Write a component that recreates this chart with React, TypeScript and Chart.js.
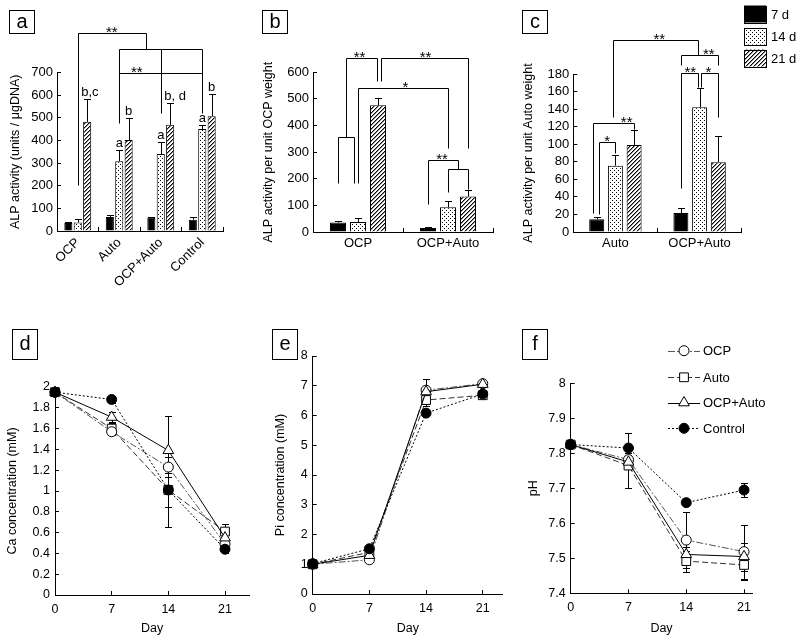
import React, { useEffect, useRef } from "react";
import { Chart, registerables } from "chart.js";

Chart.register(...registerables);

const FONT = "'Liberation Sans', Arial, Helvetica, sans-serif";
Chart.defaults.font.family = FONT;
Chart.defaults.color = "#000";

// ---------------- Bar panels (ALP activity) ----------------
const periods = ["7 d", "14 d", "21 d"];

const groupsA = ["OCP", "Auto", "OCP+Auto", "Control"];
const alpA7 = [35, 62, 58, 50];
const alpA14 = [38, 308, 340, 450];
const alpA21 = [482, 402, 469, 507];
const errA7 = [5, 9, 4, 10];
const errA14 = [17, 49, 55, 16];
const errA21 = [99, 97, 98, 100];
const ticksA = [0, 100, 200, 300, 400, 500, 600, 700];

const groupsB = ["OCP", "OCP+Auto"];
const alpB7 = [36, 15];
const alpB14 = [38, 93];
const alpB21 = [476, 133];
const errB7 = [4, 2];
const errB14 = [14, 23];
const errB21 = [29, 24];
const ticksB = [0, 100, 200, 300, 400, 500, 600];

const groupsC = ["Auto", "OCP+Auto"];
const alpC7 = [14.5, 21.6];
const alpC14 = [75.5, 142];
const alpC21 = [99, 79.5];
const errC7 = [3, 5.5];
const errC14 = [12, 22];
const errC21 = [17.5, 29.5];
const ticksC = [0, 20, 40, 60, 80, 100, 120, 140, 160, 180];

// significance brackets: polylines of [bar slot, value]; slot = bar index across the panel
const bracketsA = [
  [[1, 204], [1, 874], [5.75, 874], [5.75, 804]],
  [[4, 479], [4, 804], [10, 804], [10, 521]],
  [[7, 804], [7, 521]],
  [[4, 698], [10, 698]],
];
const starsA = [[3.2, 874, "**"], [5.36, 698, "**"]];
// letters: [group, period, text, slot shift]
const lettersA = [
  [0, 2, "b,c", 0.12], [1, 1, "a", 0], [1, 2, "b", 0], [2, 1, "a", 0],
  [2, 2, "b, d", 0.22], [3, 1, "a", 0], [3, 2, "b", 0],
];

const bracketsB = [
  [[0, 185], [0, 357], [0.82, 357], [0.82, 185]],
  [[0.41, 357], [0.41, 654], [1.95, 654], [1.95, 568]],
  [[2.06, 568], [2.06, 654], [5, 654], [5, 317]],
  [[1, 185], [1, 540], [4, 540], [4, 317]],
  [[3, 104], [3, 270], [4.5, 270], [4.5, 237]],
  [[4, 152], [4, 237], [5, 237], [5, 160]],
];
const starsB = [[1.08, 654, "**"], [2.95, 654, "**"], [2.55, 540, "*"], [3.7, 270, "**"]];

const bracketsC = [
  [[0.85, 131], [0.85, 218.7], [3.91, 218.7], [3.91, 201.5]],
  [[3, 190], [3, 201.5], [5, 201.5], [5, 190]],
  [[3, 49.7], [3, 180.7], [3.91, 180.7], [3.91, 165.5]],
  [[4.09, 165.5], [4.09, 180.7], [5, 180.7], [5, 131]],
  [[-0.22, 21.3], [-0.22, 123.8], [2, 123.8], [2, 117]],
  [[0.12, 21], [0.12, 102.8], [1, 102.8], [1, 89.6]],
];
const starsC = [[2.54, 218.7, "**"], [4.49, 201.5, "**"], [3.5, 180.7, "**"], [4.47, 180.7, "*"], [1.6, 123.8, "**"], [0.56, 102.8, "*"]];

// ---------------- Line panels ----------------
const days = [0, 7, 14, 21];
const dayTicks = [0, 7, 14, 21];
const groupNames = ["OCP", "Auto", "OCP+Auto", "Control"];

const caOCP = [1.95, 1.57, 1.23, 0.49];
const caAuto = [1.95, 1.6, 1.01, 0.61];
const caMix = [1.95, 1.71, 1.39, 0.55];
const caCtrl = [1.95, 1.88, 1.01, 0.44];
const caErrOCP = [0.02, 0.03, 0.1, 0.05];
const caErrAuto = [0.02, 0.05, 0.16, 0.07];
const caErrMix = [0.02, 0.05, 0.33, 0.05];
const caErrCtrl = [0.02, 0.03, 0.36, 0.04];
const caTicks = [0, 0.2, 0.4, 0.6, 0.8, 1, 1.2, 1.4, 1.6, 1.8, 2];

const piOCP = [1.0, 1.15, 6.85, 7.07];
const piAuto = [1.0, 1.4, 6.52, 6.68];
const piMix = [1.0, 1.3, 6.8, 7.05];
const piCtrl = [1.02, 1.52, 6.08, 6.72];
const piErrOCP = [0.05, 0.05, 0.1, 0.08];
const piErrAuto = [0.08, 0.1, 0.2, 0.1];
const piErrMix = [0.05, 0.1, 0.42, 0.08];
const piErrCtrl = [0.05, 0.05, 0.08, 0.1];
const piTicks = [0, 1, 2, 3, 4, 5, 6, 7, 8];

const phOCP = [7.825, 7.782, 7.552, 7.519];
const phAuto = [7.825, 7.765, 7.492, 7.481];
const phMix = [7.825, 7.775, 7.511, 7.505];
const phCtrl = [7.825, 7.815, 7.659, 7.695];
const phErrOCP = [0.005, 0.02, 0.08, 0.077];
const phErrAuto = [0.005, 0.063, 0.03, 0.042];
const phErrMix = [0.005, 0.02, 0.02, 0.04];
const phErrCtrl = [0.005, 0.042, 0.005, 0.02];
const phTicks = [7.4, 7.5, 7.6, 7.7, 7.8, 7.9, 8];

const lineStyles = [
  { dash: [7, 2, 2, 2], color: "#555", point: "circle", radius: 5, fill: "#fff", order: 2 },
  { dash: [6, 3], color: "#333", point: "rect", radius: 6.2, fill: "#fff", order: 3 },
  { dash: [], color: "#000", point: "triangle", radius: 6.2, fill: "#fff", order: 1 },
  { dash: [2, 2], color: "#000", point: "circle", radius: 5, fill: "#000", order: 0 },
];

// ---------------- helpers ----------------
function makeDots() {
  const c = document.createElement("canvas");
  c.width = 4; c.height = 4;
  const g = c.getContext("2d")!;
  g.fillStyle = "#fff"; g.fillRect(0, 0, 4, 4);
  g.fillStyle = "#000"; g.fillRect(0, 0, 1, 1); g.fillRect(2, 2, 1, 1);
  return g.createPattern(c, "repeat")!;
}
function makeHatch() {
  const c = document.createElement("canvas");
  c.width = 4; c.height = 4;
  const g = c.getContext("2d")!;
  g.fillStyle = "#fff"; g.fillRect(0, 0, 4, 4);
  g.fillStyle = "#000";
  for (let i = 0; i < 4; i++) g.fillRect(i, 3 - i, 1, 1);
  g.fillStyle = "rgba(0,0,0,0.45)";
  for (let i = 0; i < 4; i++) g.fillRect(i, (4 - i) % 4, 1, 1);
  return g.createPattern(c, "repeat")!;
}

function drawTag(ctx: CanvasRenderingContext2D, tag: any) {
  ctx.save();
  ctx.strokeStyle = "#000";
  ctx.lineWidth = 1;
  ctx.strokeRect(Math.round(tag.x) + 0.5, Math.round(tag.y) + 0.5, tag.w, tag.h);
  ctx.fillStyle = "#000";
  ctx.font = `20px ${FONT}`;
  ctx.textAlign = "center";
  ctx.textBaseline = "middle";
  ctx.fillText(tag.text, tag.x + tag.w / 2 + 0.5, tag.y + tag.h / 2 + 0.5);
  ctx.restore();
}

function drawMarker(ctx: CanvasRenderingContext2D, style: string, x: number, y: number, r: number, fill: string) {
  ctx.beginPath();
  if (style === "circle") {
    ctx.arc(x, y, r, 0, Math.PI * 2);
  } else if (style === "rect") {
    const s = r * Math.SQRT1_2;
    ctx.rect(x - s, y - s, 2 * s, 2 * s);
  } else {
    let rad = 0;
    ctx.moveTo(x + Math.sin(rad) * r, y - Math.cos(rad) * r);
    rad += (2 * Math.PI) / 3;
    ctx.lineTo(x + Math.sin(rad) * r, y - Math.cos(rad) * r);
    rad += (2 * Math.PI) / 3;
    ctx.lineTo(x + Math.sin(rad) * r, y - Math.cos(rad) * r);
    ctx.closePath();
  }
  ctx.fillStyle = fill;
  ctx.fill();
  ctx.setLineDash([]);
  ctx.strokeStyle = "#000";
  ctx.lineWidth = 1;
  ctx.stroke();
}

const crisp = (v: number) => Math.round(v) + 0.5;

function barPlugin(spec: any, fills: any[]) {
  return {
    id: "barAnn",
    afterDatasetsDraw(chart: any) {
      const ctx: CanvasRenderingContext2D = chart.ctx;
      const ys = chart.scales.y;
      const m = spec.series.length;
      const xs: number[] = [];
      spec.labels.forEach((_: any, g: number) => {
        for (let d = 0; d < m; d++) xs.push(chart.getDatasetMeta(d).data[g].x);
      });
      const slot = (s: number) => {
        const i = Math.max(0, Math.min(xs.length - 2, Math.floor(s)));
        return xs[i] + (s - i) * (xs[i + 1] - xs[i]);
      };
      ctx.save();
      ctx.strokeStyle = "#000";
      ctx.lineWidth = 1;
      // error bars
      spec.series.forEach((vals: number[], d: number) => {
        vals.forEach((v: number, g: number) => {
          const e = spec.errs[d][g];
          const x = crisp(xs[g * m + d]);
          const yb = ys.getPixelForValue(v);
          const yt = crisp(ys.getPixelForValue(v + e));
          ctx.beginPath();
          ctx.moveTo(x, yb);
          ctx.lineTo(x, yt);
          ctx.moveTo(x - 3.5, yt);
          ctx.lineTo(x + 3.5, yt);
          ctx.stroke();
        });
      });
      // brackets
      spec.brackets.forEach((pl: number[][]) => {
        ctx.beginPath();
        pl.forEach(([s, v], k) => {
          const px = crisp(slot(s));
          const py = crisp(ys.getPixelForValue(v));
          if (k === 0) ctx.moveTo(px, py);
          else ctx.lineTo(px, py);
        });
        ctx.stroke();
      });
      // stars
      ctx.fillStyle = "#000";
      ctx.font = `15px ${FONT}`;
      ctx.textAlign = "center";
      ctx.textBaseline = "alphabetic";
      spec.stars.forEach(([s, v, t]: any) => {
        ctx.fillText(t, slot(s), ys.getPixelForValue(v) + 4);
      });
      // letters
      ctx.font = `13px ${FONT}`;
      spec.letters.forEach(([g, d, t, sh]: any) => {
        const top = ys.getPixelForValue(spec.series[d][g] + spec.errs[d][g]);
        ctx.fillText(t, slot(g * m + d + sh), top - 3);
      });
      ctx.restore();
    },
    afterDraw(chart: any) {
      const ctx: CanvasRenderingContext2D = chart.ctx;
      drawTag(ctx, spec.tag);
      if (spec.legend) {
        ctx.save();
        const lg = spec.legend;
        periods.forEach((p, i) => {
          const y = lg.y + i * lg.step;
          ctx.fillStyle = fills[i];
          ctx.fillRect(lg.x, y, lg.w, lg.h);
          ctx.strokeStyle = "#000";
          ctx.lineWidth = 1;
          ctx.strokeRect(crisp(lg.x), crisp(y), lg.w, lg.h);
          ctx.fillStyle = "#000";
          ctx.font = `13px ${FONT}`;
          ctx.textAlign = "left";
          ctx.textBaseline = "middle";
          ctx.fillText(p, lg.x + lg.w + 5, y + lg.h / 2 + 1);
        });
        ctx.restore();
      }
    },
  };
}

function makeBarConfig(spec: any, fills: any[]) {
  const a = spec.area;
  return {
    type: "bar",
    data: {
      labels: spec.labels,
      datasets: spec.series.map((vals: number[], i: number) => ({
        label: periods[i],
        data: vals,
        backgroundColor: fills[i],
        borderColor: "#000",
        borderWidth: 1,
        categoryPercentage: spec.catPct,
        barPercentage: spec.barPct,
      })),
    },
    options: {
      responsive: false,
      animation: false,
      events: [],
      layout: { padding: { left: spec.titleLeft, top: a.t, right: 800 - a.r, bottom: 640 - a.b - spec.xH } },
      plugins: { legend: { display: false }, tooltip: { enabled: false } },
      scales: {
        x: {
          type: "category",
          grid: { offset: true, drawOnChartArea: false, drawTicks: true, tickLength: -4, color: "#000" },
          border: { display: true, color: "#000", width: 1 },
          ticks: { color: "#000", font: { size: 13 }, padding: 8, minRotation: spec.rot, maxRotation: spec.rot, autoSkip: false },
          afterFit: (s: any) => { s.height = spec.xH; },
        },
        y: {
          type: "linear",
          min: spec.yTicks[0],
          max: spec.yTicks[spec.yTicks.length - 1],
          afterBuildTicks: (s: any) => { s.ticks = spec.yTicks.map((v: number) => ({ value: v })); },
          grid: { drawOnChartArea: false, drawTicks: true, tickLength: -4, color: "#000" },
          border: { display: true, color: "#000", width: 1 },
          ticks: { color: "#000", font: { size: 13 }, padding: 8, autoSkip: false, callback: (v: any) => String(v) },
          title: { display: true, text: spec.title, color: "#000", font: { size: 12.5 }, padding: 0 },
          afterFit: (s: any) => { s.width = a.l - spec.titleLeft; },
        },
      },
    },
    plugins: [barPlugin(spec, fills)],
  };
}

function linePlugin(spec: any) {
  return {
    id: "lineAnn",
    beforeDatasetsDraw(chart: any) {
      const ctx: CanvasRenderingContext2D = chart.ctx;
      const ys = chart.scales.y;
      ctx.save();
      ctx.strokeStyle = "#000";
      ctx.lineWidth = 1;
      spec.values.forEach((vals: number[], d: number) => {
        const meta = chart.getDatasetMeta(d);
        vals.forEach((v: number, i: number) => {
          const e = spec.errs[d][i];
          if (!e) return;
          const x = crisp(meta.data[i].x);
          const y1 = crisp(ys.getPixelForValue(v + e));
          const y2 = crisp(ys.getPixelForValue(v - e));
          ctx.beginPath();
          ctx.moveTo(x, y1); ctx.lineTo(x, y2);
          ctx.moveTo(x - 3.5, y1); ctx.lineTo(x + 3.5, y1);
          ctx.moveTo(x - 3.5, y2); ctx.lineTo(x + 3.5, y2);
          ctx.stroke();
        });
      });
      ctx.restore();
    },
    afterDraw(chart: any) {
      const ctx: CanvasRenderingContext2D = chart.ctx;
      drawTag(ctx, spec.tag);
      if (spec.legend) {
        const lg = spec.legend;
        ctx.save();
        groupNames.forEach((name, i) => {
          const st = lineStyles[i];
          const y = lg.ys[i];
          ctx.strokeStyle = st.color;
          ctx.lineWidth = 1;
          ctx.setLineDash(st.dash);
          ctx.beginPath();
          ctx.moveTo(lg.x0, crisp(y));
          ctx.lineTo(lg.x1, crisp(y));
          ctx.stroke();
          drawMarker(ctx, st.point, (lg.x0 + lg.x1) / 2, y, st.radius, st.fill);
          ctx.fillStyle = "#000";
          ctx.font = `13px ${FONT}`;
          ctx.textAlign = "left";
          ctx.textBaseline = "middle";
          ctx.fillText(name, lg.x1 + 3, y + 1);
        });
        ctx.restore();
      }
    },
  };
}

function makeLineConfig(spec: any) {
  const a = spec.area;
  return {
    type: "line",
    data: {
      datasets: spec.values.map((vals: number[], i: number) => ({
        label: groupNames[i],
        data: days.map((d, k) => ({ x: d, y: vals[k] })),
        borderColor: lineStyles[i].color,
        borderWidth: 1,
        borderDash: lineStyles[i].dash,
        pointStyle: lineStyles[i].point,
        pointRadius: lineStyles[i].radius,
        pointBackgroundColor: lineStyles[i].fill,
        pointBorderColor: "#000",
        pointBorderWidth: 1,
        tension: 0,
        fill: false,
        clip: false,
        order: lineStyles[i].order,
      })),
    },
    options: {
      responsive: false,
      animation: false,
      events: [],
      layout: { padding: { left: spec.titleLeft, top: a.t, right: 800 - a.r, bottom: 640 - spec.xBottom } },
      plugins: { legend: { display: false }, tooltip: { enabled: false } },
      scales: {
        x: {
          type: "linear",
          min: 0,
          max: spec.xMax,
          afterBuildTicks: (s: any) => { s.ticks = dayTicks.map((v) => ({ value: v })); },
          grid: { drawOnChartArea: false, drawTicks: true, tickLength: -4, color: "#000" },
          border: { display: true, color: "#000", width: 1 },
          ticks: { color: "#000", font: { size: 12.5 }, padding: 11, autoSkip: false, callback: (v: any) => String(v) },
          title: { display: true, text: "Day", color: "#000", font: { size: 12.5 }, padding: 0 },
          afterFit: (s: any) => { s.height = spec.xBottom - a.b; },
        },
        y: {
          type: "linear",
          min: spec.yTicks[0],
          max: spec.yTicks[spec.yTicks.length - 1],
          afterBuildTicks: (s: any) => { s.ticks = spec.yTicks.map((v: number) => ({ value: v })); },
          grid: { drawOnChartArea: false, drawTicks: true, tickLength: -4, color: "#000" },
          border: { display: true, color: "#000", width: 1 },
          ticks: { color: "#000", font: { size: 12.5 }, padding: 9, autoSkip: false, callback: (v: any) => String(v) },
          title: { display: true, text: spec.title, color: "#000", font: { size: 12.5 }, padding: 0 },
          afterFit: (s: any) => { s.width = a.l - spec.titleLeft; },
        },
      },
    },
    plugins: [linePlugin(spec)],
  };
}

export default function App() {
  const r0 = useRef<HTMLCanvasElement>(null);
  const r1 = useRef<HTMLCanvasElement>(null);
  const r2 = useRef<HTMLCanvasElement>(null);
  const r3 = useRef<HTMLCanvasElement>(null);
  const r4 = useRef<HTMLCanvasElement>(null);
  const r5 = useRef<HTMLCanvasElement>(null);
  const refs = [r0, r1, r2, r3, r4, r5];

  useEffect(() => {
    const fills: any[] = ["#000", makeDots(), makeHatch()];
    const specA = {
      labels: groupsA, series: [alpA7, alpA14, alpA21], errs: [errA7, errA14, errA21], yTicks: ticksA,
      title: "ALP activity (units / μgDNA)", area: { l: 57, r: 223, t: 72.5, b: 231 }, titleLeft: 8, xH: 60,
      catPct: 0.68, barPct: 0.86, rot: 45, brackets: bracketsA, stars: starsA, letters: lettersA,
      tag: { x: 9, y: 10, w: 25, h: 23, text: "a" },
    };
    const specB = {
      labels: groupsB, series: [alpB7, alpB14, alpB21], errs: [errB7, errB14, errB21], yTicks: ticksB,
      title: "ALP activity per unit OCP weight", area: { l: 313, r: 493, t: 72.3, b: 232 }, titleLeft: 261, xH: 40,
      catPct: 0.667, barPct: 0.8, rot: 0, brackets: bracketsB, stars: starsB, letters: [],
      tag: { x: 262, y: 10, w: 25, h: 23, text: "b" },
    };
    const specC = {
      labels: groupsC, series: [alpC7, alpC14, alpC21], errs: [errC7, errC14, errC21], yTicks: ticksC,
      title: "ALP activity per unit Auto weight", area: { l: 573.3, r: 741.7, t: 74, b: 232 }, titleLeft: 521.5, xH: 40,
      catPct: 0.667, barPct: 0.8, rot: 0, brackets: bracketsC, stars: starsC, letters: [],
      tag: { x: 522, y: 10, w: 25, h: 23, text: "c" },
      legend: { x: 744, y: 5.5, step: 22, w: 22, h: 17 },
    };
    const specD = {
      values: [caOCP, caAuto, caMix, caCtrl], errs: [caErrOCP, caErrAuto, caErrMix, caErrCtrl], yTicks: caTicks,
      title: "Ca concentration (mM)", area: { l: 55, r: 249.3, t: 387, b: 595 }, titleLeft: 5, xBottom: 636.5, xMax: 24,
      tag: { x: 12, y: 329, w: 25, h: 30, text: "d" },
    };
    const specE = {
      values: [piOCP, piAuto, piMix, piCtrl], errs: [piErrOCP, piErrAuto, piErrMix, piErrCtrl], yTicks: piTicks,
      title: "Pi concentration (mM)", area: { l: 312.7, r: 503, t: 356, b: 594 }, titleLeft: 273, xBottom: 636.5, xMax: 23.5,
      tag: { x: 272, y: 329, w: 25, h: 30, text: "e" },
    };
    const specF = {
      values: [phOCP, phAuto, phMix, phCtrl], errs: [phErrOCP, phErrAuto, phErrMix, phErrCtrl], yTicks: phTicks,
      title: "pH", area: { l: 570.7, r: 752.3, t: 383.3, b: 593.3 }, titleLeft: 526, xBottom: 636.5, xMax: 22,
      tag: { x: 522, y: 329, w: 25, h: 30, text: "f" },
      legend: { x0: 668, x1: 700, ys: [350.7, 377.3, 402.7, 428.3] },
    };
    const configs: any[] = [
      makeBarConfig(specA, fills),
      makeBarConfig(specB, fills),
      makeBarConfig(specC, fills),
      makeLineConfig(specD),
      makeLineConfig(specE),
      makeLineConfig(specF),
    ];
    const charts = configs.map((cfg, i) => new Chart(refs[i].current as HTMLCanvasElement, cfg));
    return () => charts.forEach((c) => c.destroy());
  }, []);

  return (
    <div style={{ position: "absolute", left: 0, top: 0, width: 800, height: 640, background: "#fff", overflow: "hidden" }}>
      {refs.map((r, i) => (
        <canvas
          key={i}
          ref={r}
          width={800}
          height={640}
          style={{ position: "absolute", left: 0, top: 0, width: 800, height: 640 }}
        />
      ))}
    </div>
  );
}
